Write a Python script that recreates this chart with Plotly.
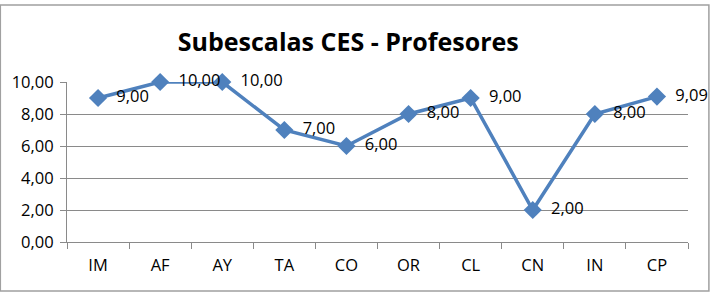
import plotly.graph_objects as go

categories = ["IM", "AF", "AY", "TA", "CO", "OR", "CL", "CN", "IN", "CP"]
values = [9.00, 10.00, 10.00, 7.00, 6.00, 8.00, 9.00, 2.00, 8.00, 9.09]
y_ticks = [0, 2, 4, 6, 8, 10]
title_text = "Subescalas CES - Profesores"

labels = ["\u00a0\u00a0" + f"{v:.2f}".replace(".", ",") for v in values]
y_tick_text = [f"{v:.2f}".replace(".", ",") for v in y_ticks]

L, R, T, B = 64, 27, 82, 52
W, H = 715, 294
pw, ph = W - L - R, H - T - B

def px_x(x):
    return (x - L) / pw

def px_y(y):
    return (H - B - y) / ph

font_family = "Open Sans, Liberation Sans, sans-serif"
line_color = "#4F81BD"
grid_color = "#8A8A8A"

fig = go.Figure()
fig.add_trace(go.Scatter(
    x=categories, y=values, mode="lines+markers+text",
    line=dict(color=line_color, width=3.5),
    marker=dict(symbol="diamond", size=14, color=line_color),
    text=labels, textposition="middle right",
    textfont=dict(family=font_family, size=16.5, color="#000000"),
    cliponaxis=False, hoverinfo="skip",
))

fig.update_layout(
    width=W, height=H,
    margin=dict(l=L, r=R, t=T, b=B),
    paper_bgcolor="white", plot_bgcolor="white",
    showlegend=False,
    title=dict(text="<b>" + title_text + "</b>", x=0.487, xanchor="center",
               y=1 - 42 / H, yanchor="middle",
               font=dict(family=font_family, size=25, color="#000000")),
    xaxis=dict(type="category", range=[-0.5, len(categories) - 0.5],
               tickson="boundaries", ticks="outside", ticklen=6,
               tickcolor=grid_color, showline=True, linecolor=grid_color,
               linewidth=1, showgrid=False, zeroline=False,
               tickfont=dict(family=font_family, size=16.5, color="#000000"),
               ticklabelstandoff=8),
    yaxis=dict(range=[0, 10], tickvals=y_ticks, ticktext=y_tick_text,
               ticks="outside", ticklen=6, tickcolor=grid_color,
               showline=True, linecolor=grid_color, linewidth=1,
               showgrid=True, gridcolor=grid_color, gridwidth=1,
               zeroline=False,
               tickfont=dict(family=font_family, size=16.5, color="#000000"),
               ticklabelstandoff=3),
    shapes=[dict(type="rect", xref="paper", yref="paper",
                 x0=px_x(-3), x1=px_x(709), y0=px_y(291), y1=px_y(5),
                 line=dict(color="#A0A0A0", width=1.5), layer="below")],
)

fig.write_html("out.html")
